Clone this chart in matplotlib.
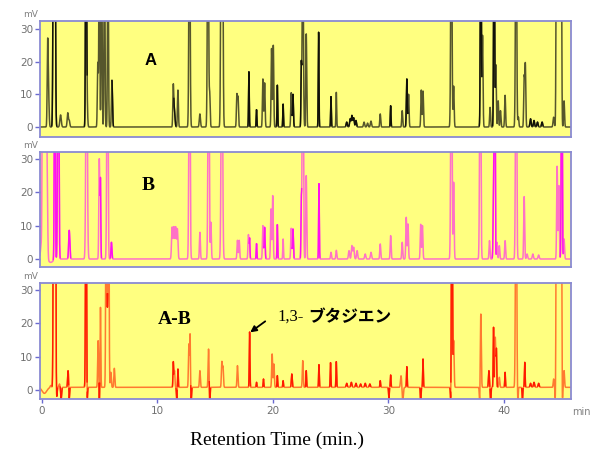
import numpy as np
import matplotlib
matplotlib.use("Agg")
import matplotlib.pyplot as plt

# ---- peak tables (time [min], height [mV], width [min], dark tone) ----
a_times = [0.53, 0.60, 1.05, 1.10, 1.15, 1.65, 2.27, 2.40, 3.85, 3.92, 4.87, 5.00, 5.20, 5.45, 5.75, 6.08, 6.12,
           11.40, 11.50, 11.80, 12.80, 13.70, 14.40, 14.55, 15.55, 15.65, 16.90, 17.00, 17.94, 18.60, 19.15,
           19.30, 19.90, 20.05, 20.40, 20.90, 21.60, 21.75, 22.47, 22.60, 22.90, 23.97, 25.04, 25.50,
           26.40, 26.70, 26.85, 27.00, 27.20, 27.90, 28.20, 28.50, 29.30, 30.20, 31.20, 31.60, 31.75,
           32.85, 33.00, 35.45, 35.65, 38.00, 38.15, 38.80, 39.15, 39.30, 39.50, 39.70, 40.10,
           41.05, 41.25, 41.75, 41.85, 42.30, 42.60, 42.90, 43.30, 44.30, 44.55, 44.65, 44.75, 44.85,
           44.95, 45.20]
a_heights = [22.6, 11, 80, 80, 80, 3.7, 4.3, 2.0, 90, 12, 19.5, 60, 60, 60, 60, 10, 6,
             12.5, 5, 11.3, 80, 4, 80, 10, 80, 80, 9.8, 9, 16.9, 5.3, 14.7,
             13.5, 24, 25, 12.8, 7, 10.5, 10, 18, 60, 28.5, 29, 9.3, 10.6,
             1.5, 2.5, 3.5, 2.8, 2.0, 1.5, 1.2, 1.8, 4, 6.5, 5, 14.7, 10,
             11.3, 11, 80, 12.5, 80, 28, 6, 80, 19, 8, 5, 9.7,
             80, 3, 15, 19, 2.5, 2, 1.5, 1.5, 3, 80, 80, 80, 80,
             80, 8]
a_widths = [0.04, 0.05, 0.05, 0.05, 0.05, 0.06, 0.05, 0.05, 0.04, 0.05, 0.04, 0.04, 0.04, 0.04, 0.04, 0.04, 0.04,
            0.04, 0.05, 0.04, 0.05, 0.05, 0.05, 0.04, 0.05, 0.05, 0.04, 0.04, 0.03, 0.03, 0.04,
            0.04, 0.04, 0.04, 0.03, 0.03, 0.04, 0.04, 0.03, 0.05, 0.04, 0.03, 0.03, 0.03,
            0.05, 0.05, 0.05, 0.05, 0.05, 0.05, 0.05, 0.05, 0.04, 0.03, 0.04, 0.04, 0.04,
            0.04, 0.04, 0.05, 0.04, 0.04, 0.04, 0.04, 0.04, 0.04, 0.04, 0.04, 0.04,
            0.05, 0.04, 0.04, 0.04, 0.05, 0.05, 0.05, 0.05, 0.05, 0.04, 0.04, 0.04, 0.04,
            0.04, 0.04]
a_dark = [0, 0, 1, 1, 1, 0, 0, 0, 1, 0, 0, 0, 0, 0, 0, 0, 1,
          0, 1, 0, 0, 0, 0, 0, 0, 0, 0, 0, 1, 1, 0,
          0, 0, 0, 1, 1, 0, 1, 1, 0, 0, 1, 1, 0,
          1, 1, 1, 1, 1, 0, 0, 0, 0, 1, 0, 1, 0,
          0, 0, 0, 0, 1, 0, 0, 1, 0, 0, 0, 0,
          0, 0, 0, 0, 1, 1, 1, 1, 0, 0, 0, 0, 0,
          0, 0]

b_times = [0.00, 0.10, 0.20, 0.30, 0.40, 0.48, 0.80, 1.15, 1.45, 2.40, 3.90, 5.00, 5.10, 5.70, 6.05,
           11.30, 11.45, 11.60, 11.75, 12.80, 13.70, 14.45, 14.65, 15.60, 16.95, 17.10, 17.90, 18.00,
           18.60, 19.15, 19.30, 19.85, 20.00, 20.40, 20.90, 21.60, 21.75, 22.47, 22.60, 22.90, 24.00,
           25.04, 25.50, 26.60, 26.85, 27.00, 27.30, 28.00, 28.50, 29.30, 30.20, 31.20, 31.55, 31.70,
           32.80, 32.95, 35.45, 35.65, 37.95, 38.75, 39.10, 39.20, 39.40, 39.60, 40.10, 41.05, 41.75,
           42.00, 42.50, 43.00, 44.60, 44.75, 45.00, 45.20]
b_heights = [4.6, 80, 80, 80, 60, 25, -1, 80, 80, 8.6, 80, 30, 23, 80, 5,
             9.5, 9.5, 9.5, 9, 80, 8, 80, 11, 80, 5.6, 5.6, 7.3, 6,
             4.6, 10, 9.5, 15, 19, 10.3, 6, 9.2, 9, 15.7, 80, 25, 22.6,
             2, 2.6, 2.5, 4, 3.5, 2.5, 1.5, 2, 4.5, 7, 5, 12.5, 10.5,
             10.4, 10, 80, 23, 80, 5.5, 18, 80, 5, 4, 5.5, 80, 18.7,
             1.5, 1.5, 1.2, 27.8, 22, 80, 6]
b_widths = [0.08, 0.04, 0.04, 0.04, 0.04, 0.05, 0.20, 0.04, 0.05, 0.05, 0.06, 0.04, 0.03, 0.05, 0.04,
            0.05, 0.05, 0.05, 0.05, 0.05, 0.04, 0.05, 0.04, 0.06, 0.04, 0.04, 0.04, 0.03,
            0.03, 0.04, 0.04, 0.04, 0.04, 0.03, 0.03, 0.04, 0.04, 0.03, 0.05, 0.04, 0.03,
            0.04, 0.04, 0.05, 0.05, 0.05, 0.05, 0.05, 0.05, 0.04, 0.04, 0.04, 0.04, 0.04,
            0.04, 0.04, 0.05, 0.04, 0.05, 0.04, 0.04, 0.04, 0.04, 0.04, 0.04, 0.05, 0.04,
            0.05, 0.05, 0.05, 0.04, 0.04, 0.04, 0.04]
b_dark = [0, 0, 0, 0, 0, 0, 0, 1, 1, 1, 0, 0, 1, 0, 1,
          0, 0, 0, 0, 0, 0, 0, 0, 0, 0, 0, 0, 1,
          1, 0, 1, 0, 0, 1, 0, 0, 1, 1, 0, 0, 1,
          0, 0, 0, 0, 0, 0, 0, 0, 0, 0, 0, 0, 0,
          0, 0, 0, 0, 0, 0, 1, 1, 0, 0, 0, 0, 0,
          0, 0, 0, 0, 0, 1, 0]

d_times = [0.25, 0.80, 1.05, 1.12, 1.20, 1.30, 1.55, 1.70, 2.30, 2.40, 3.85, 3.95, 4.90, 5.00, 5.10, 5.60,
           5.70, 5.80, 6.00, 6.30, 11.40, 11.50, 11.70, 11.80, 12.75, 12.85, 12.95, 13.70, 14.45, 14.55,
           15.60, 15.70, 16.95, 18.00, 18.60, 19.20, 19.95, 20.10, 20.40, 20.90, 21.65, 22.60, 22.90,
           24.00, 25.00, 25.50, 26.40, 26.80, 27.20, 27.60, 28.00, 28.40, 29.30, 30.05, 30.20, 31.10,
           31.25, 31.60, 32.80, 33.00, 35.40, 35.50, 35.65, 37.90, 38.00, 38.70, 38.85, 39.10, 39.25,
           39.35, 39.60, 40.10, 41.05, 41.20, 41.60, 41.80, 42.30, 42.60, 43.00, 44.30, 44.45, 44.55,
           44.65, 44.75, 44.85, 44.95, 45.05, 45.20]
d_heights = [-1.8, 0.6, 80, 80, 80, -4, 1, -3.5, 5, -3.5, 80, -5, 14, -5, 24, 80,
             17, 80, 4.5, 5.7, 7.5, 5, -4, 5.5, 13, 15.5, -4, 5, 11.5, -5,
             7.5, 6, 6.5, 16.6, 1.5, 2.5, 10, 7, 3.5, 2, 4, 8, 5,
             6.8, 7.4, 7.7, 1.2, 1.5, 1.2, 1.0, 1.2, 1.0, 2, -3.5, 3.7, 3.5,
             -4, 6.2, -5, 8.5, -5, 80, 14, -5, 22, 5, -5, 18, 15,
             11, 3, 4.5, 80, -5, -4, 7.5, 1.2, 1.5, 1.2, 2.5, -5, 80,
             80, 80, 80, 80, -5, 5]
d_widths = [0.20, 0.05, 0.04, 0.04, 0.04, 0.04, 0.05, 0.04, 0.04, 0.03, 0.04, 0.03, 0.04, 0.03, 0.03, 0.04,
            0.03, 0.04, 0.04, 0.04, 0.03, 0.04, 0.03, 0.03, 0.04, 0.03, 0.03, 0.04, 0.04, 0.03,
            0.04, 0.04, 0.04, 0.03, 0.03, 0.03, 0.04, 0.04, 0.03, 0.03, 0.04, 0.04, 0.03,
            0.03, 0.03, 0.03, 0.05, 0.05, 0.05, 0.05, 0.05, 0.05, 0.03, 0.03, 0.03, 0.05,
            0.05, 0.03, 0.03, 0.03, 0.03, 0.04, 0.04, 0.03, 0.04, 0.04, 0.03, 0.03, 0.04,
            0.03, 0.04, 0.03, 0.05, 0.03, 0.03, 0.03, 0.05, 0.05, 0.05, 0.04, 0.03, 0.04,
            0.04, 0.04, 0.04, 0.04, 0.03, 0.04]
d_dark = [0, 0, 1, 1, 1, 1, 0, 1, 1, 1, 1, 1, 0, 1, 0, 0,
          1, 0, 0, 0, 1, 0, 1, 1, 0, 0, 1, 0, 0, 1,
          0, 0, 0, 1, 1, 1, 0, 0, 1, 1, 1, 0, 1,
          1, 1, 1, 1, 1, 1, 1, 1, 1, 1, 1, 1, 0,
          0, 1, 1, 1, 1, 1, 0, 0, 0, 1, 1, 1, 0,
          1, 0, 1, 0, 0, 1, 1, 1, 1, 1, 0, 0, 0,
          0, 0, 0, 0, 0, 0]

baselines = [0.0, 0.0, 0.8]
x_ticks = [0, 10, 20, 30, 40]
y_ticks = [0, 10, 20, 30]

# trace colours: (light, dark)
colors = [("#56562c", "#111108"), ("#ff72c6", "#ff10f0"), ("#ff7a30", "#ff1a00")]

t = np.linspace(-0.2, 46.0, 9241)


def build(times, heights, widths, flags):
    light = np.zeros_like(t)
    dark = np.zeros_like(t)
    for c, h, w, f in zip(times, heights, widths, flags):
        g = h * np.exp(-0.5 * ((t - c) / w) ** 2)
        if f:
            dark += g
        else:
            light += g
    return light, dark


fig = plt.figure(figsize=(5.97, 4.5), dpi=100)
fig.patch.set_facecolor("white")

boxes = [(40, 21, 137), (40, 152, 267), (40, 283, 399)]  # pixel left, top, bottom
ylims = [(-3.06, 32.45), (-2.4, 32.1), (-2.7, 32.1)]
label_pos = [(9.4, 20.5), (9.26, 22.0), (11.5, 21.2)]
tables = [(a_times, a_heights, a_widths, a_dark),
          (b_times, b_heights, b_widths, b_dark),
          (d_times, d_heights, d_widths, d_dark)]

axes = []
for i in range(3):
    left, top, bottom = boxes[i]
    ax = fig.add_axes([left / 597, 1 - bottom / 450, 531 / 597, (bottom - top) / 450])
    ax.set_facecolor("#ffff80")
    light, dark = build(*tables[i])
    y = baselines[i] + light + dark
    ax.plot(t, y, color=colors[i][0], lw=1.1)
    # darker overlay where dark-tone peaks dominate
    mask = (np.abs(dark) > 0.3) & (np.abs(dark) > 0.5 * np.abs(light))
    ax.plot(t, np.where(mask, y, np.nan), color=colors[i][1], lw=1.0)

    ax.set_xlim(-0.13, 45.8)
    ax.set_ylim(*ylims[i])
    ax.set_yticks(y_ticks)
    for s in ax.spines.values():
        s.set_color("#8a8ad2")
        s.set_linewidth(1.3)
    ax.tick_params(axis="y", direction="out", length=3.5, width=1, color="#6a6ad0",
                   labelcolor="#707070", labelsize=7.5, pad=1.5)
    ax.text(-0.017, 1.06, "mV", transform=ax.transAxes, fontsize=6.5, color="#808080",
            ha="center", va="center")
    axes.append(ax)

# panel labels
axes[0].text(*label_pos[0], "A", fontsize=12, fontweight="bold", ha="center", va="center",
             family="Liberation Sans")
axes[1].text(*label_pos[1], "B", fontsize=14, fontweight="bold", ha="center", va="center",
             family="Liberation Serif")
axes[2].text(*label_pos[2], "A-B", fontsize=14, fontweight="bold", ha="center", va="center",
             family="Liberation Serif")

# x ticks only on the bottom panel
for ax in axes[:2]:
    ax.tick_params(axis="x", bottom=False, labelbottom=False)
axes[2].set_xticks(x_ticks)
axes[2].tick_params(axis="x", direction="out", length=3, width=1, color="#6a6ad0",
                    labelcolor="#707070", labelsize=7.5, pad=2)
axes[2].text(1.02, -0.11, "min", transform=axes[2].transAxes, fontsize=7, color="#808080",
             ha="center", va="center")

# annotation of the 1,3-butadiene peak
axes[2].annotate("", xy=(18.05, 17.3), xytext=(19.35, 20.6),
                 arrowprops=dict(arrowstyle="-|>", color="black", lw=1.3, mutation_scale=9,
                                 shrinkA=0, shrinkB=0))
axes[2].text(20.45, 21.9, "1,3-", fontsize=12, family="Liberation Serif", ha="left", va="center")
axes[2].text(23.1, 21.9, "ブタジエン", fontsize=12, fontweight="bold",
             family="Noto Sans CJK JP", ha="left", va="center")

fig.text(277.5 / 597, 1 - 445 / 450, "Retention Time (min.)", fontsize=14,
         family="Liberation Serif", ha="center", va="baseline")

fig.savefig("out.png", dpi=100, facecolor="white")
